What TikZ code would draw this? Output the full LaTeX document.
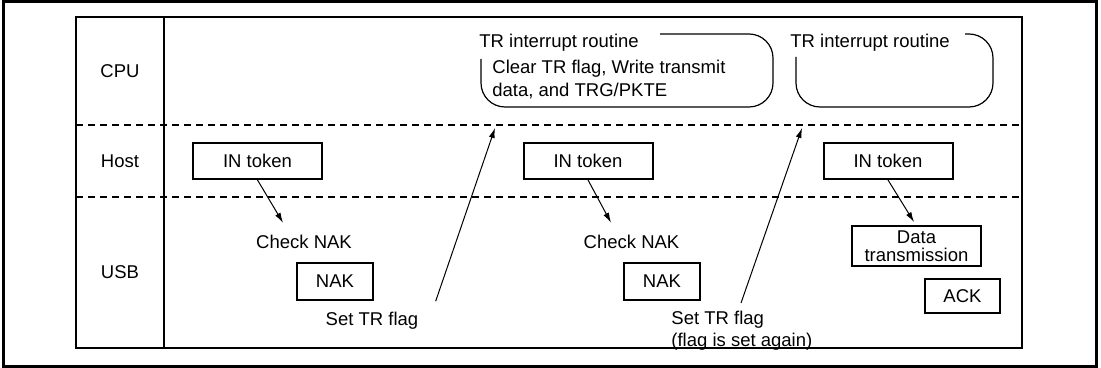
\documentclass[tikz,border=0pt]{standalone}
\usepackage{fontspec}
\setmainfont{Liberation Sans}
\usetikzlibrary{positioning, arrows.meta}

\begin{document}
\begin{tikzpicture}[
  x=0.5pt, y=-0.5pt,
  font=\fontsize{9.25pt}{11.5pt}\selectfont,
  lbl/.style={inner sep=0pt, align=left},
  tok/.style={draw, line width=1pt, inner sep=0pt, align=center,
              minimum width=64.5pt, minimum height=18pt},
  routine/.style={line width=0.6pt, rounded corners=12pt},
  lanesep/.style={line width=1pt, dash pattern=on 3.5pt off 2.5pt},
  arr/.style={-{Latex[length=5pt, width=3pt]}, line width=0.5pt}
]
\useasboundingbox (0,0) rectangle (1101,368);
\draw[line width=1.5pt] (3,2) rectangle (1096,366);
\draw[line width=1.2pt] (76,17) rectangle (1022,348);
\draw[line width=0.75pt] (164,17) -- (164,348);
\draw[lanesep] (76,125) -- (1022,125);
\draw[lanesep] (76,197) -- (1022,197);

\node (cpu) at (120,71) {CPU};
\node (host) at (120,161) {Host};
\node (usb) at (120,272) {USB};

% CPU
\draw[routine] (481,59) -- (481,107) -- (773,107) -- (773,34) -- (660,34);
\node[lbl, anchor=base west] (tr1) at (479,48) {TR interrupt routine};
\node[lbl, anchor=north west] (clr) at (492,60) {Clear TR flag, Write transmit\\data, and TRG/PKTE};
\draw[routine] (796,57) -- (796,107) -- (993,107) -- (993,34) -- (965,34);
\node[lbl, anchor=base west] (tr2) at (790,48) {TR interrupt routine};

% Host
\node[tok] (in1) at (257.5,161) {IN token};
\node[tok] (in2) at (588,161) {IN token};
\node[tok] (in3) at (888,161) {IN token};

% USB
\node[lbl, anchor=base] (chk1) at (304,248.5) {Check NAK};
\node[tok, minimum width=38pt, minimum height=18.5pt] (nak1) at (335,281.5) {NAK};
\node[lbl, anchor=base] (set1) at (372,325) {Set TR flag};
\node[lbl, anchor=base] (chk2) at (631.5,248.5) {Check NAK};
\node[tok, minimum width=38pt, minimum height=18.5pt] (nak2) at (662,281.5) {NAK};
\node[lbl, anchor=north west, font=\fontsize{9.25pt}{11pt}\selectfont] (set2) at (671,311)
  {Set TR flag\\(flag is set again)};
\node[tok, minimum height=20pt, font=\fontsize{9.25pt}{9pt}\selectfont] (data) at (916.5,246)
  {Data\\transmission};
\node[tok, minimum width=37.5pt, minimum height=17pt] (ack) at (962.5,296) {ACK};

\coordinate (irq1) at (495,128);
\coordinate (irq2) at (802,128);

\draw[arr] (in1.south) -- ([shift={(-21,-12)}]chk1.north);
\draw[arr] (in2.south) -- ([shift={(-20.5,-12)}]chk2.north);
\draw[arr] (in3.south) -- ([shift={(-2.5,-3)}]data.north);
\draw[arr] ([shift={(17,-10)}]set1.north east) -- (irq1);
\draw[arr] ([shift={(70,-8)}]set2.north west) -- (irq2);
\end{tikzpicture}
\end{document}
